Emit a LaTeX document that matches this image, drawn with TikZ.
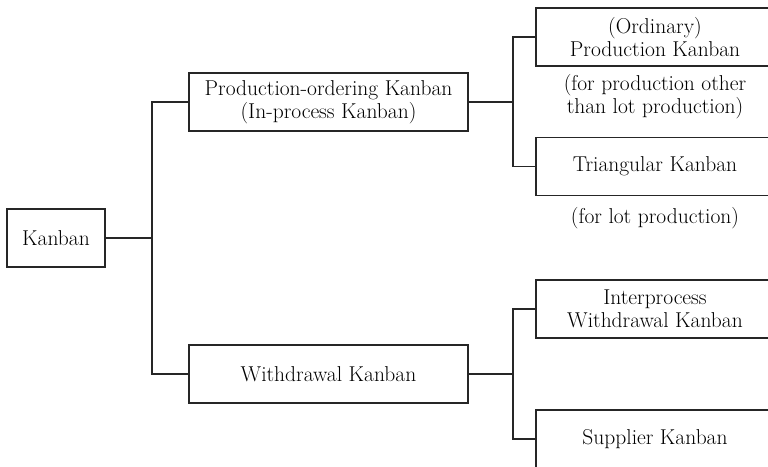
\documentclass[tikz,border=0pt]{standalone}
\usepackage{tikz}
\usetikzlibrary{positioning}

\begin{document}
\begin{tikzpicture}[x=1pt, y=-1pt, line width=1.2pt, draw=black!85,
		kanban/.style={draw=black!85, rectangle, align=center, inner sep=0pt, minimum height=58pt, font=\fontsize{21.5}{23}\selectfont},
		root/.style={kanban, minimum width=98pt},
		mid/.style={kanban, minimum width=279pt},
		leaf/.style={kanban, minimum width=238pt},
		note/.style={align=center, inner sep=0pt, font=\fontsize{21.5}{23}\selectfont}
		]
		\useasboundingbox (0,0) rectangle (768,466);
		\clip (0,0) rectangle (768,466);
		
		\node [root](k) at (56,238) {Kanban};
		
		\node [mid](po) at (328.5,102) {Production-ordering Kanban\\(In-process Kanban)};
		\node [mid](wd) at (328.5,374) {Withdrawal Kanban};
		
		\node [leaf](ord) at (655,37) {(Ordinary)\\Production Kanban};
		\node [leaf](tri) at (655,166.5) {Triangular Kanban};
		\node [leaf](ip) at (655,309) {Interprocess\\Withdrawal Kanban};
		\node [leaf](sup) at (655,439) {Supplier Kanban};
		
		\node [note](n1) at (655,97) {(for production other\\than lot production)};
		\node [note](n2) at (655,218) {(for lot production)};
		
		\coordinate (j1) at (152,238);
		\coordinate (j2) at (513,102);
		\coordinate (j3) at (513,374);
		
		\draw (k) -- (j1);
		\draw (po.west) -| (j1) |- (wd.west);
		
		\draw (po) -- (j2);
		\draw (ord.west) -| (j2) |- (tri.west);
		
		\draw (wd) -- (j3);
		\draw (ip.west) -| (j3) |- (sup.west);
		
	\end{tikzpicture}
\end{document}
